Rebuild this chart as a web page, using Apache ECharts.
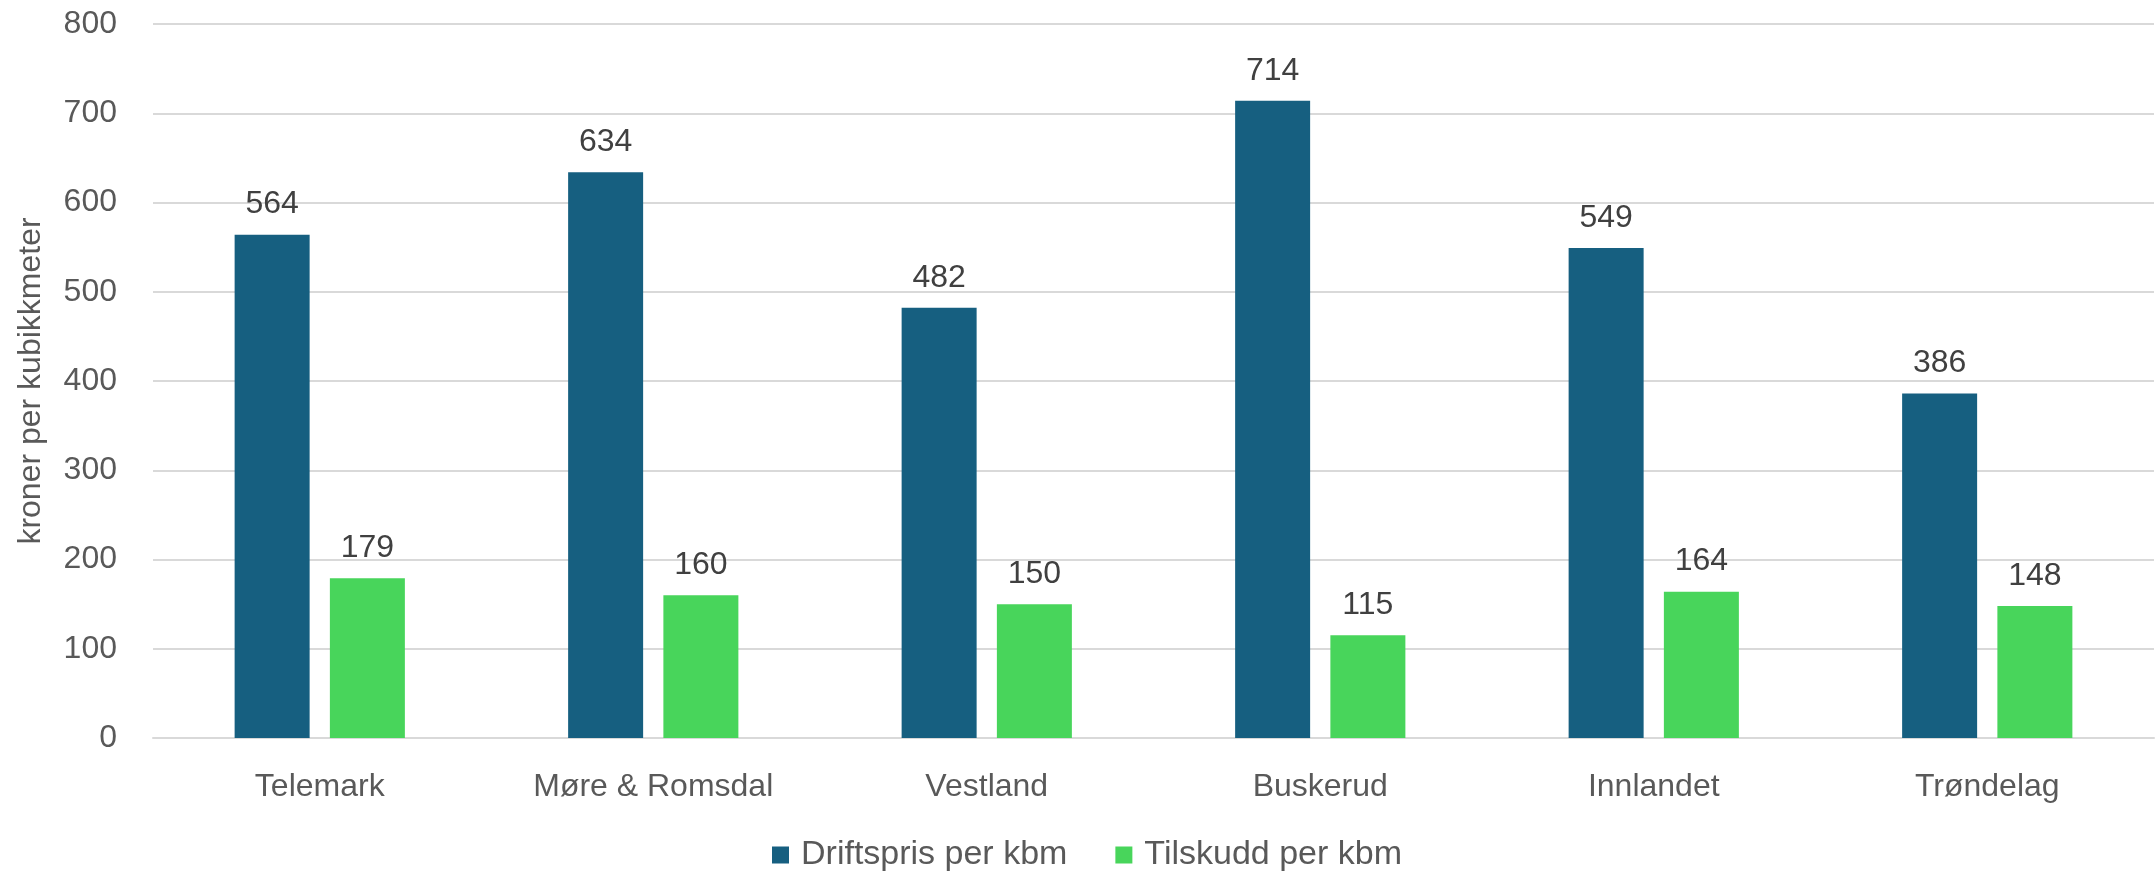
<!DOCTYPE html>
<html>
<head>
<meta charset="utf-8">
<script src="https://cdn.jsdelivr.net/npm/echarts@6/dist/echarts.min.js"></script>
<style>
  html, body { margin: 0; padding: 0; background: #fff; }
  #main { width: 2155px; height: 874px; }
</style>
</head>
<body>
<div id="main"></div>
<script>
// fylker
const regions = ['Telemark', 'Møre & Romsdal', 'Vestland', 'Buskerud', 'Innlandet', 'Trøndelag']
// kroner per kubikkmeter
const driftspris = [564, 634, 482, 714, 549, 386]
const tilskudd = [179, 160, 150, 115, 164, 148]
const seriesNames = ['Driftspris per kbm', 'Tilskudd per kbm']

const font = 'Liberation Sans, Arial, sans-serif'
const myChart = echarts.init(document.getElementById('main'))

const labelStyle = {
  show: true,
  position: 'top',
  distance: 14,
  color: '#404040',
  fontSize: 32,
  fontFamily: font
}

const option = {
  animation: false,
  grid: { left: 153, right: 1, top: 24, bottom: 136 },
  legend: {
    bottom: -3,
    left: 767,
    itemWidth: 17,
    itemHeight: 17,
    itemGap: 48,
    icon: 'rect',
    textStyle: { color: '#595959', fontSize: 34, fontFamily: font, padding: [0, 0, 0, 7] },
    data: seriesNames
  },
  xAxis: {
    type: 'category',
    data: regions,
    axisTick: { show: false },
    axisLine: { lineStyle: { color: '#d9d9d9', width: 2 } },
    axisLabel: { color: '#595959', fontSize: 32, fontFamily: font, margin: 33 }
  },
  yAxis: {
    type: 'value',
    min: 0,
    max: 800,
    interval: 100,
    name: 'kroner per kubikkmeter',
    nameLocation: 'middle',
    nameGap: 106,
    nameTextStyle: { color: '#595959', fontSize: 32, fontFamily: font },
    axisLabel: { color: '#595959', fontSize: 32, fontFamily: font, margin: 36 },
    splitLine: { lineStyle: { color: '#d9d9d9', width: 2 } }
  },
  series: [
    {
      name: seriesNames[0],
      type: 'bar',
      data: driftspris,
      barWidth: 75,
      barGap: '27%',
      itemStyle: { color: '#165F80' },
      label: labelStyle
    },
    {
      name: seriesNames[1],
      type: 'bar',
      data: tilskudd,
      barWidth: 75,
      itemStyle: { color: '#48D55B' },
      label: labelStyle
    }
  ]
}

myChart.setOption(option)
</script>
</body>
</html>
